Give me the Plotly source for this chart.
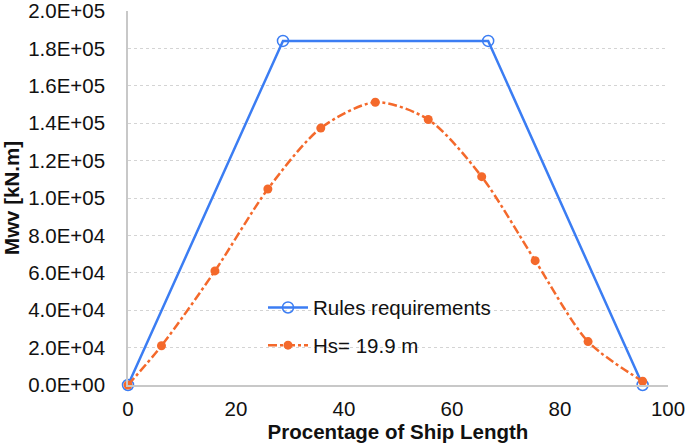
import plotly.graph_objects as go

# Data
rules_x = [0, 28.7, 66.7, 95.3]
rules_y = [0, 184000, 184000, 0]
hs_x = [0, 6.2, 16.1, 25.9, 35.7, 45.8, 55.6, 65.5, 75.4, 85.2, 95.3]
hs_y = [0, 21000, 61000, 104800, 137400, 151200, 142000, 111400, 66500, 23200, 2000]
y_ticks = [0, 20000, 40000, 60000, 80000, 100000, 120000, 140000, 160000, 180000, 200000]
y_tick_labels = ["0.0E+00", "2.0E+04", "4.0E+04", "6.0E+04", "8.0E+04", "1.0E+05",
                 "1.2E+05", "1.4E+05", "1.6E+05", "1.8E+05", "2.0E+05"]
x_ticks = [0, 20, 40, 60, 80, 100]

BLUE = "#3B7DF3"
ORANGE = "#F4692B"
FONT = "Liberation Sans, Arial, sans-serif"
FS = 20.5

fig = go.Figure()
fig.add_trace(go.Scatter(
    x=rules_x, y=rules_y, mode="lines+markers", name="Rules requirements",
    legendgroup="a",
    line=dict(color=BLUE, width=2.5),
    marker=dict(symbol="circle-open", size=11, color=BLUE, line=dict(width=1.5)),
    cliponaxis=False,
))
fig.add_trace(go.Scatter(
    x=hs_x, y=hs_y, mode="lines+markers", name="Hs= 19.9 m",
    legendgroup="b",
    line=dict(color=ORANGE, width=2.5, dash="dashdot", shape="spline", smoothing=0.8),
    marker=dict(symbol="circle", size=9, color=ORANGE),
    cliponaxis=False,
))

fig.update_layout(
    width=685, height=448,
    margin=dict(l=128, r=17, t=11, b=63, autoexpand=False),
    paper_bgcolor="white", plot_bgcolor="white",
    font=dict(family=FONT, size=FS, color="#111"),
    showlegend=True,
    legend=dict(x=0.25, y=0.156, xanchor="left", yanchor="middle",
                bgcolor="rgba(0,0,0,0)", font=dict(size=FS),
                traceorder="grouped", tracegroupgap=8, itemwidth=40),
    xaxis=dict(range=[0, 100], tickvals=x_ticks, showgrid=False, zeroline=False,
               showline=True, linecolor="#c8c8c8", linewidth=1.5,
               ticks="", ticklabelstandoff=5, automargin=False, ticklabeloverflow="allow",
               title=dict(text="<b>Procentage of Ship Length</b>", font=dict(size=FS), standoff=4)),
    yaxis=dict(range=[0, 200000], tickvals=y_ticks, ticktext=y_tick_labels,
               showgrid=True, gridcolor="#d4d4d4", griddash="dot", gridwidth=1,
               zeroline=False, showline=True, linecolor="#c8c8c8", linewidth=1.5,
               ticks="", ticklabelstandoff=17, automargin=False, ticklabeloverflow="allow",
               title=dict(text="<b>Mwv [kN.m]</b>", font=dict(size=FS), standoff=8)),
)

fig.write_html("out.html", config={"displayModeBar": False},
               post_script="document.body.style.margin='0';document.body.style.overflow='hidden';")
